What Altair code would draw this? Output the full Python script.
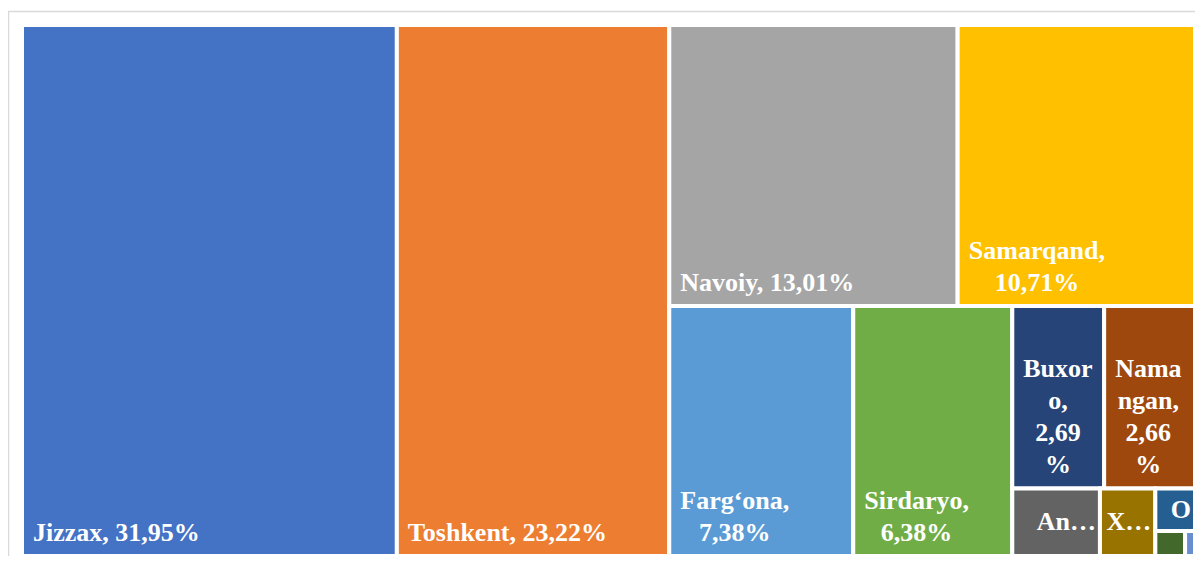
import altair as alt
import pandas as pd

# ---- data ----
regions = ["Jizzax", "Toshkent", "Navoiy", "Samarqand", "Farg‘ona", "Sirdaryo",
           "Buxoro", "Namangan", "Andijon", "Xorazm", "O",
           "Surxondaryo", "Qoraqalpog‘iston"]
shares = [31.95, 23.22, 13.01, 10.71, 7.38, 6.38, 2.69, 2.66, 0.95, 0.60, 0.27, 0.12, 0.04]
colors = ["#4472C4", "#ED7D31", "#A5A5A5", "#FFC000", "#5B9BD5", "#70AD47",
          "#264478", "#9E480E", "#636363", "#997300", "#255E91", "#43682B", "#698ED0"]

W, H = 1173, 531          # plot area in pixels (= layout units)
FS, LH = 26, 32           # label font size / line height
GAP = 2                   # half of white gap between cells


# ---- squarified treemap layout computed from the values ----
def worst(row, side):
    t = sum(row) / side
    return max(max(t / (a / t), (a / t) / t) for a in row)


def squarify(vals, x, y, w, h, tol=1.05):
    total = sum(vals)
    areas = [v * w * h / total for v in vals]
    out = []
    i = 0
    while i < len(areas):
        side = min(w, h)
        row = [areas[i]]
        j = i + 1
        while j < len(areas) and worst(row + [areas[j]], side) <= worst(row, side) * tol:
            row.append(areas[j])
            j += 1
        s = sum(row)
        if w <= h:   # row along the top
            t = s / w
            cx = x
            for a in row:
                l = a / t
                out.append((cx, cx + l, y, y + t))
                cx += l
            y += t
            h -= t
        else:        # column along the left
            t = s / h
            cy = y
            for a in row:
                l = a / t
                out.append((x, x + t, cy, cy + l))
                cy += l
            x += t
            w -= t
        i = j
    return out


rects = squarify(shares, 0, 0, W, H)

# ---- text helpers (approximate Times bold advance widths) ----
CW = {' ': .25, ',': .25, '%': 1.0, '‘': .333, '…': 1.0, 'A': .722, 'B': .667, 'F': .611,
      'J': .5, 'N': .722, 'S': .556, 'T': .667, 'X': .722, 'Q': .778, 'O': .778, 'a': .5,
      'd': .556, 'e': .444, 'g': .5, 'h': .556, 'i': .278, 'j': .333, 'k': .556, 'l': .278,
      'm': .833, 'n': .556, 'o': .5, 'p': .556, 'q': .556, 'r': .444, 's': .389, 't': .333,
      'u': .556, 'v': .5, 'x': .5, 'y': .5, 'z': .444}


def tw(s):
    return sum(CW.get(c, .5) for c in s) * FS


def wrap(text, avail):
    lines, line = [], ""
    for word in text.split(" "):
        cand = (line + " " + word) if line else word
        if tw(cand) <= avail:
            line = cand
            continue
        if line:
            lines.append(line)
            line = ""
        if tw(word) <= avail:
            line = word
        else:
            for ch in word:
                if tw(line + ch) <= avail or not line:
                    line += ch
                else:
                    lines.append(line)
                    line = ch
    if line:
        lines.append(line)
    return lines


cells, single, multi, trunc = [], [], [], []
for name, v, col, (x0, x1, y0, y1) in zip(regions, shares, colors, rects):
    cells.append({"name": name, "x0": x0, "x1": x1, "y0": y0, "y1": y1})
    dx0, dx1, dy0, dy1 = x0 + GAP, x1 - GAP, y0 + GAP, y1 - GAP
    dw, dh = dx1 - dx0, dy1 - dy0
    if dh < FS or dw < FS:
        continue
    label = f"{name}, {v:.2f}".replace(".", ",") + "%"
    lines = wrap(label, dw - 17)
    n = len(lines)
    if n * LH <= dh - 10:
        first_base = dy1 - 13 - (n - 1) * LH
        if n == 1:
            single.append({"tx": dx0 + 9, "ty": first_base, "t": lines[0]})
        else:
            mw = max(tw(l) for l in lines)
            multi.append({"tx": dx0 + 9 + mw / 2, "ty": first_base, "t": "\n".join(lines)})
    else:
        k = 1
        while k < len(label) and tw(label[:k + 1] + "…") <= dw - 17:
            k += 1
        s = label[:k] + "…"
        if tw(s) > dw:
            s = label[:1]
        trunc.append({"tx": dx1 - 2, "ty": (dy0 + dy1) / 2, "t": s})

xs = alt.Scale(domain=[0, W], nice=False, zero=False)
ys = alt.Scale(domain=[0, H], nice=False, zero=False, reverse=True)

frame = alt.Chart(pd.DataFrame({"k": [0]})).mark_rect(
    fillOpacity=0, stroke="#D9D9D9", strokeWidth=1.5
).encode(x=alt.value(-13.5), x2=alt.value(W + 40), y=alt.value(-13.5), y2=alt.value(H + 40))

boxes = alt.Chart(pd.DataFrame(cells)).mark_rect(stroke="white", strokeWidth=2 * GAP).encode(
    x=alt.X("x0:Q", scale=xs, axis=None),
    x2="x1:Q",
    y=alt.Y("y0:Q", scale=ys, axis=None),
    y2="y1:Q",
    color=alt.Color("name:N", scale=alt.Scale(domain=regions, range=colors), legend=None),
)

txt_style = dict(font="Liberation Serif", fontWeight="bold", fontSize=FS,
                 color="white", lineHeight=LH, lineBreak="\n")


def text_layer(rows, align, baseline):
    return alt.Chart(pd.DataFrame(rows, columns=["tx", "ty", "t"])).mark_text(
        align=align, baseline=baseline, **txt_style
    ).encode(
        x=alt.X("tx:Q", scale=xs, axis=None),
        y=alt.Y("ty:Q", scale=ys, axis=None),
        text="t:N",
    )


chart = alt.layer(
    frame, boxes,
    text_layer(single, "left", "alphabetic"),
    text_layer(multi, "center", "alphabetic"),
    text_layer(trunc, "right", "middle"),
).properties(
    width=W, height=H,
    padding={"left": 14, "top": 17, "right": 0, "bottom": 0},
    autosize=alt.AutoSizeParams(type="none"),
    background="white",
).configure_view(strokeWidth=0)

chart.save("out.html", embed_options={"renderer": "svg", "actions": False})
